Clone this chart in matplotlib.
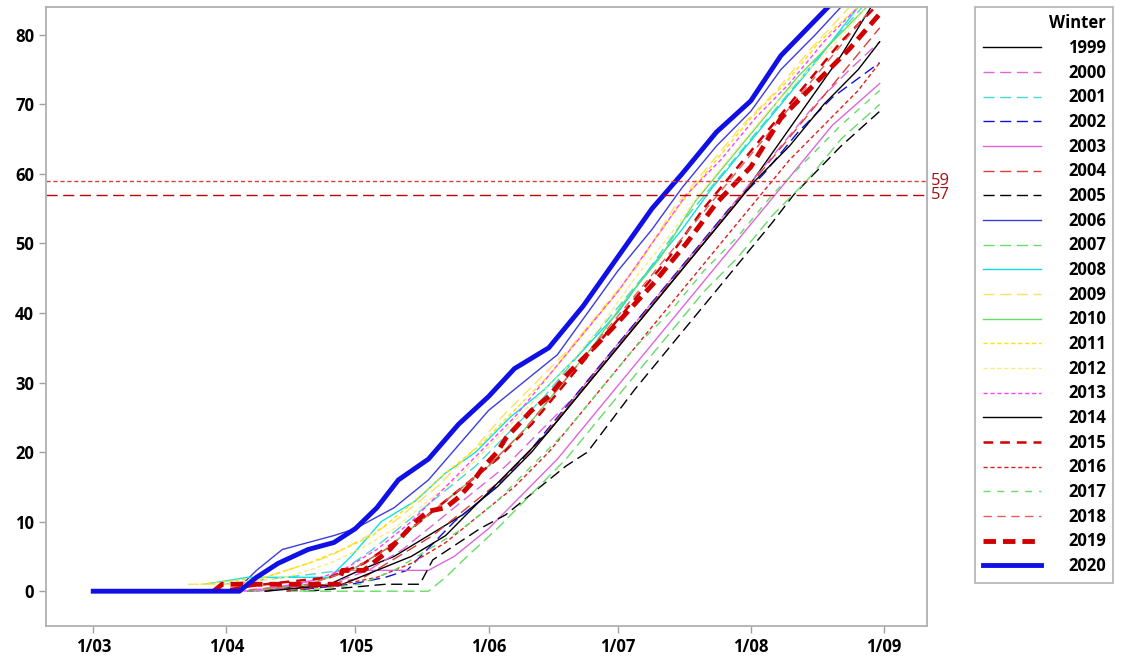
import numpy as np
import matplotlib
matplotlib.use("Agg")
import matplotlib.pyplot as plt

plt.rcParams['font.family'] = ['Open Sans', 'DejaVu Sans']
plt.rcParams['lines.scale_dashes'] = False

# x = days since 1 March, y = cumulative count
month_days = [0, 31, 61, 92, 122, 153, 184]
month_labels = ['1/03', '1/04', '1/05', '1/06', '1/07', '1/08', '1/09']
ref_levels = [59, 57]

d1999 = [36, 55, 62, 70, 78, 86, 94, 102, 110, 118, 126, 134, 142, 150, 158, 166, 174, 181]
v1999 = [0, 1, 3, 5, 8, 11, 15, 20, 26, 32, 38, 44, 50, 56, 63, 70, 77, 84]
d2000 = [38, 55, 64, 72, 80, 88, 96, 104, 112, 120, 128, 136, 144, 152, 160, 168, 176, 183]
v2000 = [0, 1, 3, 6, 10, 14, 18, 23, 28, 34, 40, 46, 52, 58, 64, 70, 75, 79]
d2001 = [30, 45, 58, 65, 73, 81, 89, 97, 105, 113, 121, 129, 137, 145, 153, 161, 169, 179]
v2001 = [1, 2, 3, 6, 10, 14, 18, 23, 28, 34, 40, 46, 53, 59, 65, 71, 77, 84]
d2002 = [45, 60, 68, 73, 84, 92, 100, 108, 116, 124, 132, 140, 148, 156, 164, 172, 183]
v2002 = [0, 1, 2, 3, 10, 14, 19, 25, 31, 37, 43, 49, 55, 60, 66, 71, 76]
d2003 = [38, 55, 57, 78, 84, 92, 100, 108, 116, 124, 132, 140, 148, 156, 164, 172, 183]
v2003 = [0, 2, 3, 3, 5, 9, 14, 19, 25, 31, 37, 43, 49, 55, 61, 67, 73]
d2004 = [40, 55, 63, 71, 79, 87, 95, 103, 111, 119, 127, 135, 143, 151, 159, 167, 175, 183]
v2004 = [0, 1, 2, 5, 8, 12, 16, 21, 27, 33, 39, 45, 51, 57, 63, 69, 75, 81]
d2005 = [50, 68, 76, 79, 90, 96, 102, 110, 115, 126, 134, 142, 150, 158, 163, 174, 183]
v2005 = [0, 1, 1, 4.5, 9, 11, 14, 18, 20, 29, 35, 41, 47, 53, 57, 64, 69]
d2006 = [0, 33, 38, 44, 50, 56, 61, 70, 78, 85, 92, 100, 108, 115, 122, 130, 137, 145, 153, 160, 168, 174]
v2006 = [0, 0, 3, 6, 7, 8, 9, 12, 16, 21, 26, 30, 34, 40, 46, 52, 58, 64, 69, 75, 80, 84]
d2007 = [45, 78, 82, 87, 94, 102, 110, 118, 126, 134, 142, 150, 158, 166, 174, 183]
v2007 = [0, 0, 2, 5, 9, 14, 19, 25, 31, 37, 43, 48, 54, 59, 65, 70]
d2008 = [26, 36, 55, 60, 67, 75, 82, 89, 97, 105, 113, 122, 129, 137, 144, 152, 160, 168, 178]
v2008 = [1, 2, 2, 5, 10, 13, 17, 20, 25, 29, 34, 40, 46, 52, 58, 64, 70, 76, 84]
d2009 = [22, 35, 45, 55, 61, 70, 80, 88, 95, 103, 111, 119, 127, 135, 143, 151, 159, 167, 176]
v2009 = [1, 1, 3, 5, 7, 10, 15, 20, 25, 30, 35, 41, 47, 55, 61, 67, 72, 78, 84]
d2010 = [36, 50, 60, 68, 76, 84, 92, 100, 108, 116, 124, 132, 140, 148, 156, 164, 172, 180]
v2010 = [0, 1, 3, 6, 10, 14, 18, 23, 29, 35, 42, 48, 56, 62, 68, 74, 79, 84]
d2011 = [25, 40, 50, 58, 65, 73, 82, 90, 98, 106, 114, 122, 130, 137, 145, 153, 161, 169, 178]
v2011 = [1, 2, 4, 6, 8, 12, 17, 21, 26, 31, 37, 43, 50, 56, 62, 68, 73, 79, 84]
d2012 = [30, 45, 55, 62, 70, 78, 86, 94, 102, 110, 118, 126, 134, 141, 149, 157, 165, 173, 180]
v2012 = [1, 2, 4, 6, 9, 13, 17, 22, 27, 32, 38, 45, 51, 57, 63, 69, 74, 79, 84]
d2013 = [35, 48, 58, 66, 74, 82, 90, 98, 106, 114, 122, 130, 138, 146, 154, 162, 170, 178]
v2013 = [0, 1, 3, 6, 10, 15, 20, 25, 31, 37, 43, 50, 57, 62, 68, 73, 79, 84]
d2014 = [40, 58, 66, 74, 82, 90, 98, 106, 114, 122, 130, 138, 146, 154, 162, 170, 178, 183]
v2014 = [0, 1, 3, 5, 8, 13, 18, 23, 29, 35, 41, 47, 53, 59, 64, 70, 75, 79]
d2015 = [28, 40, 55, 63, 70, 78, 86, 94, 102, 110, 118, 126, 134, 142, 150, 158, 166, 174, 182]
v2015 = [0, 1, 2, 4, 7, 11, 15, 19, 24, 30, 36, 42, 48, 55, 61, 67, 73, 79, 84]
d2016 = [45, 58, 66, 74, 82, 90, 98, 106, 114, 122, 130, 138, 146, 154, 162, 170, 178, 183]
v2016 = [0, 1, 2, 4, 7, 11, 15, 20, 26, 32, 38, 44, 50, 56, 62, 67, 72, 76]
d2017 = [48, 62, 70, 78, 86, 94, 102, 110, 118, 126, 134, 142, 150, 158, 166, 174, 183]
v2017 = [0, 1, 3, 6, 9, 13, 18, 23, 29, 35, 40, 46, 51, 57, 62, 67, 72]
d2018 = [33, 50, 60, 68, 76, 84, 92, 100, 108, 116, 124, 132, 140, 148, 156, 164, 172, 180]
v2018 = [0, 1, 3, 6, 10, 14, 18, 23, 29, 35, 41, 47, 53, 59, 65, 71, 77, 83]
d2019 = [28, 30, 57, 58, 63, 67, 69, 72, 75, 78, 82, 85, 88, 91, 94, 96, 99, 102, 106, 110,
         116, 122, 130, 138, 145, 153, 160, 168, 176, 183]
v2019 = [0, 1, 1, 3, 3, 5, 6, 8, 10, 11.5, 12, 13.5, 15.5, 18, 20, 22, 24, 26, 28, 31,
         34.7, 38.6, 44, 50, 55.8, 61, 68, 73, 78, 83]
d2020 = [0, 34, 38, 43, 50, 56, 61, 66, 71, 78, 85, 92, 98, 106, 114, 122, 130, 137, 145, 153, 160, 171]
v2020 = [0, 0, 2, 4, 6, 7, 9, 12, 16, 19, 24, 28, 32, 35, 41, 48, 55, 60, 66, 70.5, 77, 84]

winters = list(range(1999, 2021))
series = [(d1999, v1999), (d2000, v2000), (d2001, v2001), (d2002, v2002), (d2003, v2003),
          (d2004, v2004), (d2005, v2005), (d2006, v2006), (d2007, v2007), (d2008, v2008),
          (d2009, v2009), (d2010, v2010), (d2011, v2011), (d2012, v2012), (d2013, v2013),
          (d2014, v2014), (d2015, v2015), (d2016, v2016), (d2017, v2017), (d2018, v2018),
          (d2019, v2019), (d2020, v2020)]

LONG = (0, (8, 4))
SHORT = (0, (3, 2))
# colour, linestyle, linewidth
styles = [
    ('black', '-', 1.0),
    ('#dd66dd', LONG, 1.0),
    ('#48d8d0', LONG, 1.0),
    ('#1010e0', LONG, 1.0),
    ('#dd66dd', '-', 1.0),
    ('#e03c3c', LONG, 1.0),
    ('black', LONG, 1.0),
    ('#3c3ce0', '-', 1.0),
    ('#66dd66', LONG, 1.0),
    ('#10e0e0', '-', 1.0),
    ('#ffe066', LONG, 1.0),
    ('#66dd66', '-', 1.0),
    ('#ffe000', SHORT, 1.0),
    ('#ffe880', SHORT, 1.0),
    ('#ff40ff', SHORT, 1.0),
    ('black', '-', 1.0),
    ('#d00000', (0, (7, 5)), 1.8),
    ('#e02020', SHORT, 1.0),
    ('#66dd66', (0, (5, 5)), 1.0),
    ('#e06060', (0, (6, 4)), 1.0),
    ('#d00000', (0, (9, 5)), 3.5),
    ('#1010e6', '-', 3.5),
]

fig = plt.figure(figsize=(11.24, 6.59), dpi=100)
ax = fig.add_axes([0.0409, 0.0501, 0.7838, 0.9393])

for yr, (d, v), (c, ls, lw) in zip(winters, series, styles):
    ax.plot(d, v, color=c, linestyle=ls, linewidth=lw, label=str(yr))

ax.axhline(ref_levels[0], color='#e03c3c', linestyle=(0, (3, 2)), linewidth=1.0)
ax.axhline(ref_levels[1], color='#c00000', linestyle=(0, (8, 4)), linewidth=1.0)
for lev in ref_levels:
    ax.text(1.005, lev, str(lev), transform=ax.get_yaxis_transform(),
            color='#a01010', fontsize=12, va='center', ha='left')

ax.set_xlim(-11, 194)
ax.set_ylim(-5, 84)
ax.set_xticks(month_days)
ax.set_xticklabels(month_labels)
ax.set_yticks(range(0, 81, 10))
for s in ax.spines.values():
    s.set_color('#b0b0b0')
    s.set_linewidth(1.3)
ax.tick_params(colors='#a0a0a0', length=5, width=1, labelcolor='black', labelsize=12)
for t in ax.get_xticklabels() + ax.get_yticklabels():
    t.set_fontweight('bold')

leg = ax.legend(title='Winter', loc='upper left', bbox_to_anchor=(1.055, 1.0),
                frameon=True, fancybox=False, fontsize=12, title_fontsize=12,
                handlelength=3.5, handletextpad=1.6, labelspacing=0.4,
                borderpad=0.45, borderaxespad=0, alignment='right')
leg.get_frame().set_edgecolor('#a0a0a0')
leg.get_frame().set_linewidth(1.2)
for t in leg.get_texts():
    t.set_fontweight('bold')
leg.get_title().set_fontweight('bold')

fig.savefig('out.png', dpi=100)
